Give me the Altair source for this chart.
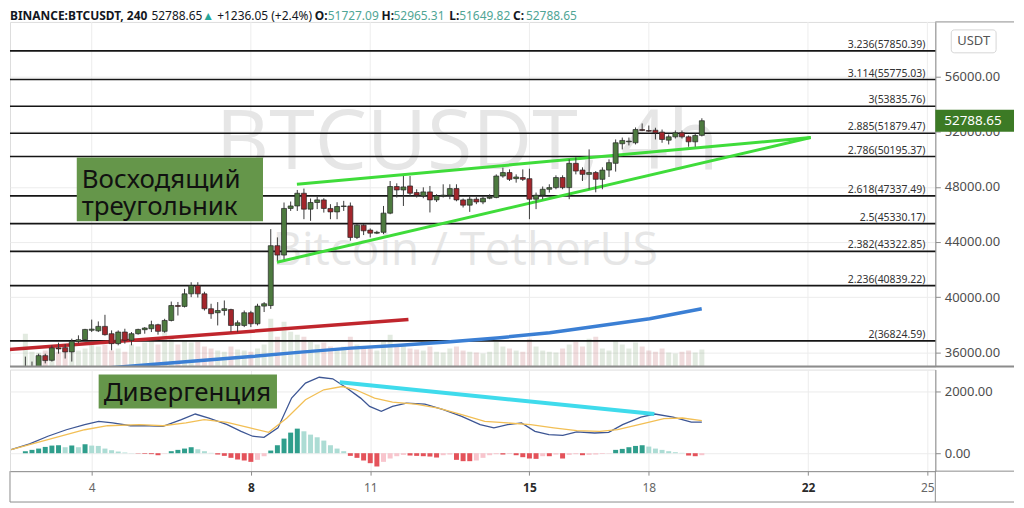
import altair as alt
import numpy as np
import pandas as pd

# ------------------------------------------------------------------ data
DAY_TICKS = [4, 8, 11, 15, 18, 22, 25]
PRICE_TICKS = [36000, 40000, 44000, 48000, 52000, 56000]
MACD_TICKS = [0, 2000]

# 4h candles, index 0 = Feb 4 00:00; first visible candle has index -10
FIRST_INDEX = -10
OPENS = [
    34500, 34700, 34800, 35760, 35420, 36320, 36340, 36030, 36800, 36920,
    37600, 37560, 37880, 37350, 36630, 37470, 36870, 37350, 37640, 37710,
    38000, 37520, 38310, 39390, 39330, 40240, 40840, 40240, 39160, 38870,
    39030, 39100, 37950, 37950, 38870, 38070, 39350, 39390, 43730, 43050,
    46430, 46610, 47530, 46380, 46860, 47050, 46430, 46180, 46570, 46610,
    44330, 45220, 44860, 44640, 44700, 46090, 48020, 47770, 48060, 47580,
    47340, 47630, 47050, 47340, 47390, 47870, 47050, 46670, 47100, 46900,
    47170, 47220, 48780, 49030, 48590, 48670, 48590, 47100, 47390, 47820,
    47940, 48670, 47940, 49700, 49210, 48900, 49030, 48540, 49210, 49700,
    51120, 51260, 51190, 52150, 52080, 52100, 51960, 51380, 51620, 51910,
    51620, 51260, 51727.09]
HIGHS = [
    35690, 35330, 35900, 35900, 36510, 36700, 36600, 36990, 37230, 37700,
    38370, 38240, 38720, 37590, 37590, 37710, 37470, 37710, 37830, 38290,
    38070, 38430, 39680, 39650, 40600, 41080, 41080, 40390, 39520, 39640,
    39760, 39160, 38310, 39030, 39010, 39520, 39640, 44930, 44330, 46860,
    46930, 47770, 47870, 47150, 47300, 47170, 46740, 46880, 46980, 46860,
    45290, 45290, 44980, 44810, 46610, 48420, 48250, 48780, 48780, 47820,
    47960, 48060, 47460, 48180, 48180, 48180, 47150, 47340, 47250, 47340,
    47460, 48900, 49390, 49260, 48900, 49260, 49310, 47580, 48020, 48180,
    48830, 48830, 49990, 50130, 49410, 50710, 49140, 49410, 49990, 51430,
    51570, 51570, 52300, 52590, 52440, 52280, 52150, 51790, 52080, 52080,
    51720, 51860, 52965.31]
LOWS = [
    34400, 34500, 34600, 35200, 35330, 35900, 35550, 35330, 36650, 36870,
    37470, 37470, 37210, 36150, 36510, 36630, 36510, 37280, 37350, 37470,
    37280, 37420, 38240, 38670, 39250, 40000, 39970, 39030, 38430, 37950,
    38670, 37470, 37470, 37830, 37830, 37950, 38920, 39150, 42640, 42740,
    46250, 46250, 45650, 45530, 46380, 46130, 45650, 45650, 46250, 44090,
    44210, 44500, 44330, 44570, 44570, 46010, 47220, 46610, 47340, 47220,
    47170, 46140, 46900, 47220, 47100, 46950, 46500, 46180, 46740, 46740,
    47100, 47170, 48660, 48420, 48300, 48420, 45650, 46380, 47100, 47580,
    47820, 47820, 47100, 48900, 48420, 47820, 47600, 47820, 48710, 49100,
    50710, 51000, 51070, 52030, 51960, 51430, 51190, 51070, 51500, 51500,
    50900, 50900, 51649.82]
CLOSES = [
    34900, 34950, 35760, 35400, 36320, 36250, 36030, 36800, 36920, 37660,
    37680, 37880, 37280, 36630, 37470, 36870, 37350, 37660, 37760, 38000,
    37520, 38310, 39390, 39330, 40240, 40840, 40240, 39160, 38800, 39030,
    39160, 37950, 38140, 38870, 38070, 39350, 39520, 43730, 43050, 46430,
    46610, 47530, 46380, 46860, 47050, 46430, 46180, 46570, 46610, 44330,
    45220, 44810, 44640, 44700, 46090, 48020, 47770, 47990, 47530, 47390,
    47630, 47050, 47340, 47390, 47870, 47050, 46670, 47100, 46900, 47170,
    47260, 48780, 49030, 48540, 48710, 48540, 47100, 47390, 47820, 47940,
    48670, 47940, 49700, 49140, 48900, 49030, 48540, 49210, 49750, 51190,
    51360, 51310, 52150, 52080, 52030, 51910, 51430, 51620, 51910, 51620,
    51260, 51720, 52788.65]
# volume, thousand BTC
VOLUMES = [
    28.6, 13, 12, 14, 11.3, 13, 14.8, 12.2, 13.9, 15.7,
    20.9, 17.4, 19.1, 13.9, 15.7, 13,
    19.1, 17.4, 20.9, 22.6, 19.1, 30.4,
    26, 19.1, 22.6, 20.9, 21.7, 17.4, 15.7,
    13.9, 13, 17.4, 14.8, 13.9, 13, 15.7, 19.1,
    41.7,
    26, 39.1, 30.4, 27.8, 26, 21.7, 19.1, 20.9, 17.4, 15.7, 17.4,
    26, 19.1, 17.4, 15.7, 13.9, 21.7,
    27.8, 17.4, 19.1, 15.7, 14.8, 13.9,
    17.4, 13, 12.2, 15.7, 17.4, 13.9, 13, 12.2, 11.3, 13,
    21.7, 17.4, 15.7, 13.9, 13, 24.3,
    17.4, 13.9, 13, 12.2, 15.7, 19.1,
    21.7, 17.4, 24.3, 26, 15.7, 13.9,
    22.6, 19.1, 15.7, 20.9, 17.4, 13.9, 13, 15.7,
    12.2, 11.3, 13, 13.9, 12.2, 14.8]
# MACD histogram, one bar per candle
HIST = [
    65, 108, 150, 204, 247, 258, 194, 247, 194, 290,
    247, 236, 150, 97, 54, 22, 5, -10, -20, -30,
    -65, -10, 65, 108, 150, 194, 129, 65, 11, -43,
    -86, -150, -204, -236, -280, -215, -97, 86, 258, 473,
    667, 796, 710, 602, 516, 409, 258, 150, 65, -86,
    -150, -236, -323, -430, -280, -172, -97, -54, -75, -86,
    -97, -108, -140, -65, -43, -215, -258, -258, -236, -150,
    -65, -32, -43, -22, -65, -129, -172, -183, -97, -97,
    -43, -172, -54, -32, -65, -54, -43, -22, -10, 108,
    140, 194, 236, 258, 215, 150, 108, 65, 32, 11,
    -75, -97, -65]

MACD_DAYS = [1.977, 2.441, 2.899, 3.364, 3.825, 4.175, 4.526, 4.976, 5.452, 5.790,
             6.253, 6.603, 6.946, 7.404, 7.755, 8.043, 8.330, 8.681, 9.024, 9.372,
             9.717, 10.058, 10.408, 10.758, 10.984, 11.277, 11.559, 11.910, 12.373, 12.836,
             13.299, 13.762, 14.108, 14.453, 14.801, 15.139, 15.489, 15.840, 16.190, 16.641,
             16.991, 17.342, 17.802, 18.150, 18.611, 19.069, 19.333]
MACD_VALUES = [120, 300, 550, 760, 925, 1030, 980, 890, 890, 870,
               1085, 1270, 1140, 925, 710, 550, 515, 820, 1785, 2270,
               2460, 2410, 2110, 1785, 1515, 1355, 1515, 1620, 1590, 1410,
               1195, 925, 820, 925, 980, 710, 600, 580, 690, 655,
               675, 925, 1170, 1270, 1170, 1010, 1010]
SIGNAL_DAYS = [1.977, 2.899, 3.825, 4.400, 5.202, 5.790, 6.368, 6.829, 7.404, 7.980,
               8.448, 8.906, 9.372, 9.832, 10.295, 10.633, 11.109, 11.559, 12.135, 12.711,
               13.299, 13.877, 14.453, 15.031, 15.610, 16.190, 16.766, 17.216, 17.802, 18.380,
               18.843, 19.333]
SIGNAL_VALUES = [120, 440, 760, 890, 925, 890, 980, 1085, 1000, 820,
                 675, 1140, 1730, 2055, 2160, 2055, 1785, 1655, 1590, 1460,
                 1250, 1030, 980, 925, 820, 730, 710, 765, 945, 1120,
                 1140, 1055]

FIB_RATIOS = ["3.236", "3.114", "3", "2.885", "2.786", "2.618", "2.5", "2.382", "2.236", "2"]
FIB_PRICES = [57850.39, 55775.03, 53835.76, 51879.47, 50195.37,
              47337.49, 45330.17, 43322.85, 40839.22, 36824.59]

MA_DAYS = [4.25, 5.50, 6.75, 8.01, 9.26, 10.51, 11.76, 13.01, 14.26, 15.51, 16.77, 18.02, 19.33]
MA_PRICES = [34824, 35113, 35402, 35690, 36015, 36304, 36520, 36773, 37062, 37423, 37928, 38434, 39156]

RED_DAYS = [1.92, 11.96]
RED_PRICES = [36200, 38380]
UPPER_DAYS = [9.157, 22.07]
UPPER_PRICES = [48180, 51570]
LOWER_DAYS = [8.656, 22.07]
LOWER_PRICES = [42530, 51570]
CYAN_DAYS = [10.233, 18.14]
CYAN_VALUES = [2300, 1268]

LAST_PRICE = 52788.65

HEADER = [
    (0, "BINANCE:BTCUSDT, 240", "#131722", "bold"),
    (142, "52788.65", "#131722", "normal"),
    (193, "▲", "#26a69a", "normal"),
    (208, "+1236.05 (+2.4%)", "#131722", "normal"),
    (306, "O:", "#131722", "bold"),
    (319, "51727.09", "#4fa595", "normal"),
    (373, "H:", "#131722", "bold"),
    (385, "52965.31", "#4fa595", "normal"),
    (441, "L:", "#131722", "bold"),
    (451, "51649.82", "#4fa595", "normal"),
    (505, "C:", "#131722", "bold"),
    (518, "52788.65", "#4fa595", "normal"),
]

# ------------------------------------------------------------------ frames
n = len(OPENS)
candles = pd.DataFrame({
    "day": [4 + (FIRST_INDEX + k) / 6 for k in range(n)],
    "open": OPENS, "high": HIGHS, "low": LOWS, "close": CLOSES,
    "vol": VOLUMES, "hist": HIST,
})
candles["dir"] = np.where(candles["close"] >= candles["open"], "up", "down")
prev = candles["hist"].shift(1).fillna(0)
candles["hcol"] = np.where(
    candles["hist"] >= 0,
    np.where(candles["hist"] >= prev, "pos_up", "pos_dn"),
    np.where(candles["hist"] <= prev, "neg_dn", "neg_up"),
)
fib = pd.DataFrame({"price": FIB_PRICES,
                    "label": [f"{r}({p:.2f})" for r, p in zip(FIB_RATIOS, FIB_PRICES)]})
ma = pd.DataFrame({"day": MA_DAYS, "price": MA_PRICES})
red = pd.DataFrame({"day": RED_DAYS, "price": RED_PRICES})
upper = pd.DataFrame({"day": UPPER_DAYS, "price": UPPER_PRICES})
lower = pd.DataFrame({"day": LOWER_DAYS, "price": LOWER_PRICES})
macd_df = pd.DataFrame({"day": MACD_DAYS, "v": MACD_VALUES})
sig_df = pd.DataFrame({"day": SIGNAL_DAYS, "v": SIGNAL_VALUES})
cyan = pd.DataFrame({"day": CYAN_DAYS, "v": CYAN_VALUES})
one = pd.DataFrame({"a": [0]})

# ------------------------------------------------------------------ scales / axes
W, H1, H2 = 929, 346, 102
RIGHT = 1008
FONT = "Noto Sans"
GREEN = "#4d7a3f"
RED = "#a3262c"
FRAME = "#8c8c8c"

xsc = alt.Scale(domain=[1.947, 25.2], nice=False, zero=False, padding=0)
psc = alt.Scale(domain=[34968, 59950], nice=False, zero=False, padding=0)
msc = alt.Scale(domain=[-581, 2710], nice=False, zero=False, padding=0)
dir_color = alt.Color("dir:N", scale=alt.Scale(domain=["up", "down"], range=[GREEN, RED]), legend=None)

price_axis = alt.Axis(orient="right", values=PRICE_TICKS, format=".2f", title=None, grid=True,
                      gridColor="#ececec", labelFontSize=13, labelFont=FONT, labelColor="#4d4d4d",
                      tickSize=5, tickColor=FRAME, domainColor=FRAME, labelPadding=4)
macd_axis = alt.Axis(orient="right", values=MACD_TICKS, format=".2f", title=None, grid=True,
                     gridColor="#ececec", labelFontSize=13, labelFont=FONT, labelColor="#4d4d4d",
                     tickSize=5, tickColor=FRAME, domainColor=FRAME, labelPadding=4)
WEEK_TEST = "datum.value == 8 || datum.value == 15 || datum.value == 22"
x_axis = alt.Axis(values=DAY_TICKS, title=None, grid=True, gridColor="#ececec", labelFontSize=12,
                  labelFont=FONT, tickSize=4, tickColor=FRAME, domainColor=FRAME, labelPadding=7,
                  labelColor={"condition": {"test": WEEK_TEST, "value": "#2a2a2a"}, "value": "#666666"},
                  labelFontWeight={"condition": {"test": WEEK_TEST, "value": "bold"}, "value": "normal"})


def X(f):  # main pane: no x axis at all
    return alt.X(f, type="quantitative", scale=xsc, axis=None)


def MX(f):  # MACD pane: every layer carries the same axis definition
    return alt.X(f, type="quantitative", scale=xsc, axis=x_axis)


def PY(f):
    return alt.Y(f, type="quantitative", scale=psc, axis=price_axis)


def MY(f):
    return alt.Y(f, type="quantitative", scale=msc, axis=macd_axis)


# ------------------------------------------------------------------ main pane
grid_x = alt.Chart(pd.DataFrame({"d": DAY_TICKS})).mark_rule(color="#ededed").encode(x=X("d"))

wm1 = alt.Chart(pd.DataFrame({"t": ["BTCUSDT, 4h"]})).mark_text(
    font="Open Sans", fontSize=83, color="#e6e6e6", align="center", baseline="alphabetic"
).encode(x=alt.value(459), y=alt.value(148), text="t:N")
wm2 = alt.Chart(pd.DataFrame({"t": ["Bitcoin / TetherUS"]})).mark_text(
    font="Open Sans", fontSize=46, color="#e6e6e6", align="center", baseline="alphabetic"
).encode(x=alt.value(457), y=alt.value(244), text="t:N")

vol_layer = alt.Chart(candles).mark_bar(size=5, opacity=0.16, clip=True).encode(
    x=X("day"),
    y=alt.Y("vol:Q", scale=alt.Scale(domain=[0, 300], nice=False, zero=True), axis=None),
    color=dir_color,
)

fib_rules = alt.Chart(fib).mark_rule(color="#151515", strokeWidth=1.7).encode(y=PY("price"))
fib_text = alt.Chart(fib).mark_text(align="right", baseline="alphabetic", dy=-3, fontSize=10.5,
                                    font=FONT, color="#333333").encode(
    x=alt.value(919), y=PY("price"), text="label:N")

ma_line = alt.Chart(ma).mark_line(color="#3b7fd4", strokeWidth=3.5, clip=True).encode(x=X("day"), y=PY("price"))
red_line = alt.Chart(red).mark_line(color="#c0262d", strokeWidth=3.5, clip=True).encode(x=X("day"), y=PY("price"))
up_line = alt.Chart(upper).mark_line(color="#3fdc3a", strokeWidth=3).encode(x=X("day"), y=PY("price"))
lo_line = alt.Chart(lower).mark_line(color="#3fdc3a", strokeWidth=3).encode(x=X("day"), y=PY("price"))

wicks = alt.Chart(candles).mark_rule(color="#3a3a3a", strokeWidth=1, clip=True).encode(
    x=X("day"), y=PY("low"), y2="high")
bodies = alt.Chart(candles).mark_bar(size=5, stroke="#262626", strokeWidth=0.7, clip=True).encode(
    x=X("day"), y=PY("open"), y2="close", color=dir_color)

ann1 = pd.DataFrame({"d1": [3.625], "d2": [8.305], "p1": [50130], "p2": [45510]})
ann1_rect = alt.Chart(ann1).mark_rect(color="#65964a").encode(x=X("d1"), x2="d2", y=PY("p1"), y2="p2")
ann1_txt = alt.Chart(pd.DataFrame({"d": [3.75], "p": [47930],
                                   "t": ["Восходящий\nтреугольник"]})).mark_text(
    align="left", baseline="alphabetic", font=FONT, fontSize=26, lineBreak="\n", lineHeight=27,
    color="#111111").encode(x=X("d"), y=PY("p"), text="t:N")

last = pd.DataFrame({"p": [LAST_PRICE], "t": [f"{LAST_PRICE:.2f}"]})
price_box = alt.Chart(last).mark_rect(color="#3c7a25", yOffset=-11, y2Offset=11).encode(
    x=alt.value(W), x2=alt.value(RIGHT), y=PY("p"), y2="p")
price_txt = alt.Chart(last).mark_text(align="left", baseline="middle", font=FONT, fontSize=13.5,
                                      color="white").encode(x=alt.value(938), y=PY("p"), text="t:N")

price_layers = alt.layer(fib_rules, fib_text, ma_line, red_line, up_line, lo_line, wicks, bodies,
                         ann1_rect, ann1_txt, price_box, price_txt)

usdt_box = alt.Chart(one).mark_rect(fill="white", stroke="#d6d6d6", cornerRadius=3).encode(
    x=alt.value(945), x2=alt.value(990), y=alt.value(8), y2=alt.value(31))
usdt_txt = alt.Chart(pd.DataFrame({"t": ["USDT"]})).mark_text(
    font=FONT, fontSize=13, color="#555555", align="center", baseline="middle").encode(
    x=alt.value(967.5), y=alt.value(19.5), text="t:N")
top_ext = alt.Chart(one).mark_rule(color=FRAME).encode(x=alt.value(W), x2=alt.value(RIGHT), y=alt.value(0))
mid_ext = alt.Chart(one).mark_rule(color=FRAME, strokeWidth=2).encode(
    x=alt.value(0), x2=alt.value(RIGHT), y=alt.value(H1))

hdr = pd.DataFrame(HEADER, columns=["x", "t", "c", "w"])
header_layers = []
for _, r in hdr.iterrows():
    header_layers.append(
        alt.Chart(pd.DataFrame({"t": [r["t"]]})).mark_text(
            font=FONT, fontSize=12, fontWeight=r["w"], color=r["c"], align="left", baseline="top"
        ).encode(x=alt.value(float(r["x"])), y=alt.value(-11), text="t:N")
    )

main = alt.layer(grid_x, wm1, wm2, vol_layer, price_layers, usdt_box, usdt_txt, top_ext, mid_ext,
                 *header_layers).resolve_scale(y="independent").properties(width=W, height=H1)

# ------------------------------------------------------------------ MACD pane
hist_bars = alt.Chart(candles).mark_bar(size=5).encode(
    x=MX("day"),
    y=MY("hist"),
    color=alt.Color("hcol:N", scale=alt.Scale(domain=["pos_up", "pos_dn", "neg_dn", "neg_up"],
                                              range=["#2f9e8c", "#acdcd4", "#e4525a", "#f8c5cd"]),
                    legend=None),
)
macd_line = alt.Chart(macd_df).mark_line(color="#3d5694", strokeWidth=1.3).encode(x=MX("day"), y=MY("v"))
sig_line = alt.Chart(sig_df).mark_line(color="#f2bf55", strokeWidth=1.3).encode(x=MX("day"), y=MY("v"))
cyan_line = alt.Chart(cyan).mark_line(color="#3fdbec", strokeWidth=4).encode(x=MX("day"), y=MY("v"))

ann2 = pd.DataFrame({"d1": [4.175], "d2": [8.656], "v1": [2548], "v2": [1452]})
ann2_rect = alt.Chart(ann2).mark_rect(color="#65964a").encode(x=MX("d1"), x2="d2", y=MY("v1"), y2="v2")
ann2_txt = alt.Chart(pd.DataFrame({"d": [4.3], "v": [1677], "t": ["Дивергенция"]})).mark_text(
    align="left", baseline="alphabetic", font=FONT, fontSize=26, color="#111111").encode(
    x=MX("d"), y=MY("v"), text="t:N")

STRIP = 31
strip_left = alt.Chart(one).mark_rule(color=FRAME).encode(x=alt.value(0), y=alt.value(H2), y2=alt.value(H2 + STRIP))
strip_right = alt.Chart(one).mark_rule(color=FRAME).encode(x=alt.value(W), y=alt.value(H2), y2=alt.value(H2 + STRIP))
strip_bottom = alt.Chart(one).mark_rule(color=FRAME).encode(x=alt.value(0), x2=alt.value(RIGHT), y=alt.value(H2 + STRIP))
strip_top = alt.Chart(one).mark_rule(color=FRAME).encode(x=alt.value(W), x2=alt.value(RIGHT), y=alt.value(H2))

macd = alt.layer(hist_bars, macd_line, sig_line, cyan_line, ann2_rect, ann2_txt,
                 strip_left, strip_right, strip_bottom, strip_top).properties(width=W, height=H2)

chart = alt.vconcat(main, macd, spacing=0).resolve_scale(color="independent").properties(
    padding={"left": 0, "top": 0, "right": 0, "bottom": 0}
).configure_view(stroke=FRAME, strokeWidth=1).configure(background="white")

chart.save("out.html", embed_options={"renderer": "svg", "actions": False})
